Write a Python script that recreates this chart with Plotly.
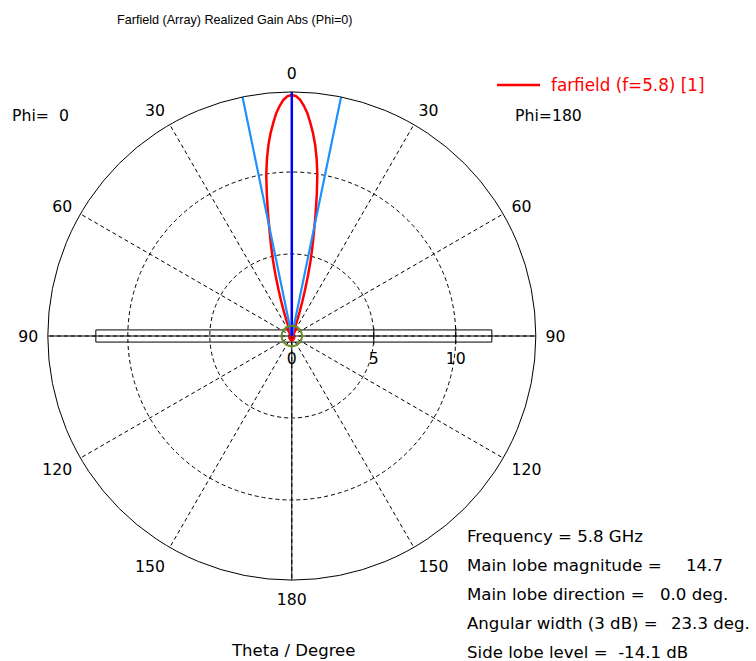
import math
import plotly.graph_objects as go

# ---------------- data ----------------
THETA_DEG = [0, 1, 2, 3, 4, 5, 6, 7, 8, 9, 10, 11, 12, 13, 14, 15, 16, 17, 18, 19, 20,
             21, 22, 23, 24, 25, 26, 27, 28, 29, 30, 31, 32, 33, 34, 35, 36, 37, 38, 39, 40,
             42, 44, 46, 50, 55, 60, 65, 70, 75, 80, 85, 90, 100, 110, 120, 130, 140, 150,
             160, 170, 180]
GAIN_PHI0 = [14.70, 14.63, 14.42, 14.06, 13.62, 13.03, 12.42, 11.72, 10.90, 9.95, 8.78,
             7.61, 6.52, 5.60, 4.73, 3.82, 2.96, 2.20, 1.55, 1.02, 0.60,
             0.30, 0.10, 0.02, 0.05, 0.15, 0.27, 0.38, 0.48, 0.55, 0.57, 0.54, 0.46, 0.36, 0.25,
             0.15, 0.07, 0.02, 0.03, 0.08, 0.13,
             0.19, 0.20, 0.16, 0.06, 0.10, 0.15, 0.12, 0.08, 0.10, 0.12, 0.10, 0.08, 0.10, 0.12,
             0.15, 0.18, 0.20, 0.22, 0.24, 0.25, 0.25]
GAIN_PHI180 = [14.70, 14.63, 14.42, 14.06, 13.62, 13.03, 12.42, 11.72, 10.90, 9.95, 8.78,
               7.61, 6.52, 5.60, 4.73, 3.82, 2.96, 2.20, 1.55, 1.02, 0.60,
               0.30, 0.10, 0.02, 0.05, 0.15, 0.27, 0.38, 0.48, 0.55, 0.57, 0.54, 0.46, 0.36, 0.25,
               0.15, 0.07, 0.02, 0.03, 0.08, 0.13,
               0.19, 0.20, 0.16, 0.06, 0.10, 0.15, 0.12, 0.08, 0.10, 0.12, 0.10, 0.08, 0.10, 0.12,
               0.15, 0.18, 0.20, 0.22, 0.24, 0.25, 0.25]

MAIN_LOBE_DIR = 0.0
BEAMWIDTH_3DB = 23.3
SIDE_LOBE_RADIUS = 0.62          # -14.1 dB relative to main lobe
R_MAX = 14.88
RADIAL_TICKS = [0, 5, 10]
ANGLE_TICKVALS = [0, 30, 60, 90, 120, 150, 180, 210, 240, 270, 300, 330]
ANGLE_TICKTEXT = ["0", "30", "60", "90", "120", "150", "180", "150", "120", "90", "60", "30"]
# structure outline (array substrate) in radial units: x extents and half thickness
STRUCT_X = [-11.95, 12.2]
STRUCT_HALF_H = 0.37

LEGEND_NAME = "farfield (f=5.8) [1]"
INFO_LABELS = ["Frequency = 5.8 GHz", "Main lobe magnitude =", "Main lobe direction =",
               "Angular width (3 dB) =", "Side lobe level =\u00a0 -14.1 dB"]
INFO_VALUES = ["", "14.7", "0.0 deg.", "23.3 deg.", ""]

FONT = "DejaVu Sans"
W, H = 756, 661


def px(x):
    return x / W


def py(y):
    return 1 - y / H


# ---------------- traces ----------------
theta_all = [-t for t in reversed(THETA_DEG)] + THETA_DEG[1:]
r_all = list(reversed(GAIN_PHI180)) + GAIN_PHI0[1:]

fig = go.Figure()

# solid axis lines through the centre
fig.add_trace(go.Scatterpolar(r=[R_MAX, 0, R_MAX], theta=[90, 90, 270], mode="lines",
                              line=dict(color="black", width=1), showlegend=False, hoverinfo="skip"))
fig.add_trace(go.Scatterpolar(r=[R_MAX, 0, R_MAX], theta=[0, 0, 180], mode="lines",
                              line=dict(color="black", width=1), showlegend=False, hoverinfo="skip"))

# structure rectangle (x to the right = polar angle 270, y up = angle 0)
cx = [STRUCT_X[0], STRUCT_X[1], STRUCT_X[1], STRUCT_X[0], STRUCT_X[0]]
cy = [STRUCT_HALF_H, STRUCT_HALF_H, -STRUCT_HALF_H, -STRUCT_HALF_H, STRUCT_HALF_H]
rect_r = [math.hypot(a, b) for a, b in zip(cx, cy)]
rect_t = [math.degrees(math.atan2(-a, b)) for a, b in zip(cx, cy)]
fig.add_trace(go.Scatterpolar(r=rect_r, theta=rect_t, mode="lines",
                              line=dict(color="black", width=1), showlegend=False, hoverinfo="skip"))

# red farfield curve
fig.add_trace(go.Scatterpolar(r=r_all, theta=theta_all, mode="lines",
                              line=dict(color="#ff0000", width=2.5),
                              name=LEGEND_NAME, showlegend=False))

# 3 dB beamwidth lines
hb = BEAMWIDTH_3DB / 2
fig.add_trace(go.Scatterpolar(r=[R_MAX, 0, R_MAX], theta=[MAIN_LOBE_DIR + hb, 0, MAIN_LOBE_DIR - hb],
                              mode="lines", line=dict(color="#1e90ff", width=2.2),
                              showlegend=False, hoverinfo="skip"))
# main lobe direction
fig.add_trace(go.Scatterpolar(r=[0, R_MAX], theta=[MAIN_LOBE_DIR, MAIN_LOBE_DIR], mode="lines",
                              line=dict(color="#0000ff", width=2.5), showlegend=False, hoverinfo="skip"))
# side lobe circle
circ_t = list(range(0, 361, 5))
fig.add_trace(go.Scatterpolar(r=[SIDE_LOBE_RADIUS] * len(circ_t), theta=circ_t, mode="lines",
                              line=dict(color="#6b8e23", width=2), showlegend=False, hoverinfo="skip"))
# radial tick marks crossing the horizontal axis
fig.add_trace(go.Scatterpolar(r=RADIAL_TICKS[1:], theta=[270] * (len(RADIAL_TICKS) - 1), mode="markers",
                              marker=dict(symbol="line-ns", size=12, line=dict(color="black", width=1)),
                              showlegend=False, hoverinfo="skip"))

dash = "4px,3px"
fig.update_layout(
    width=W, height=H,
    margin=dict(l=0, r=0, t=0, b=0),
    paper_bgcolor="white",
    showlegend=False,
    font=dict(family=FONT, color="black", size=15),
    polar=dict(
        domain=dict(x=[px(291.8 - 244), px(291.8 + 244)], y=[py(336 + 244), py(336 - 244)]),
        bgcolor="white",
        angularaxis=dict(rotation=90, direction="counterclockwise",
                         tickmode="array", tickvals=ANGLE_TICKVALS, ticktext=ANGLE_TICKTEXT,
                         showgrid=True, gridcolor="black", griddash=dash, gridwidth=1,
                         showline=True, linecolor="black", linewidth=1,
                         ticks="outside", ticklen=6, tickcolor="rgba(0,0,0,0)",
                         tickfont=dict(size=15.7, family=FONT)),
        radialaxis=dict(range=[0, R_MAX], tickmode="array", tickvals=RADIAL_TICKS,
                        ticktext=[str(v) for v in RADIAL_TICKS],
                        showgrid=True, gridcolor="black", griddash=dash, gridwidth=1,
                        showline=False, angle=0, side="clockwise",
                        ticks="outside", ticklen=9, tickcolor="rgba(0,0,0,0)",
                        tickfont=dict(size=15.7, family=FONT)),
    ),
)

# legend sample line (drawn as layout decoration)
fig.add_shape(type="line", xref="paper", yref="paper", x0=px(497), x1=px(540), y0=py(85), y1=py(85),
              line=dict(color="#ff0000", width=2.5))

ann = []
ann.append(dict(text=LEGEND_NAME, x=px(549), y=py(85), xanchor="left", yanchor="middle",
                font=dict(size=16.8, color="#ff0000")))
ann.append(dict(text="Farfield (Array) Realized Gain Abs (Phi=0)", x=px(235), y=py(20),
                xanchor="center", yanchor="middle", font=dict(size=12.6, family="Liberation Sans")))
ann.append(dict(text="Phi=\u00a0 0", x=px(10), y=py(115), xanchor="left", yanchor="middle",
                font=dict(size=15.7)))
ann.append(dict(text="Phi=180", x=px(513), y=py(115), xanchor="left", yanchor="middle",
                font=dict(size=15.7)))
ann.append(dict(text="Theta / Degree", x=px(293), y=py(650), xanchor="center", yanchor="middle",
                font=dict(size=16.5)))
info_y = [536, 565, 594, 623, 652]
value_x = [0, 725, 730, 752, 0]
for lab, val, yy, vx in zip(INFO_LABELS, INFO_VALUES, info_y, value_x):
    ann.append(dict(text=lab, x=px(465), y=py(yy), xanchor="left",
                    yanchor="middle", font=dict(size=16.6)))
    if val:
        ann.append(dict(text=val, x=px(vx), y=py(yy), xanchor="right", yanchor="middle",
                        font=dict(size=16.6)))
for a in ann:
    a.update(xref="paper", yref="paper", showarrow=False)
fig.update_layout(annotations=ann)

fig.write_html("out.html", config={"displayModeBar": False},
               post_script="document.body.style.margin='0';document.body.style.overflow='hidden';")
